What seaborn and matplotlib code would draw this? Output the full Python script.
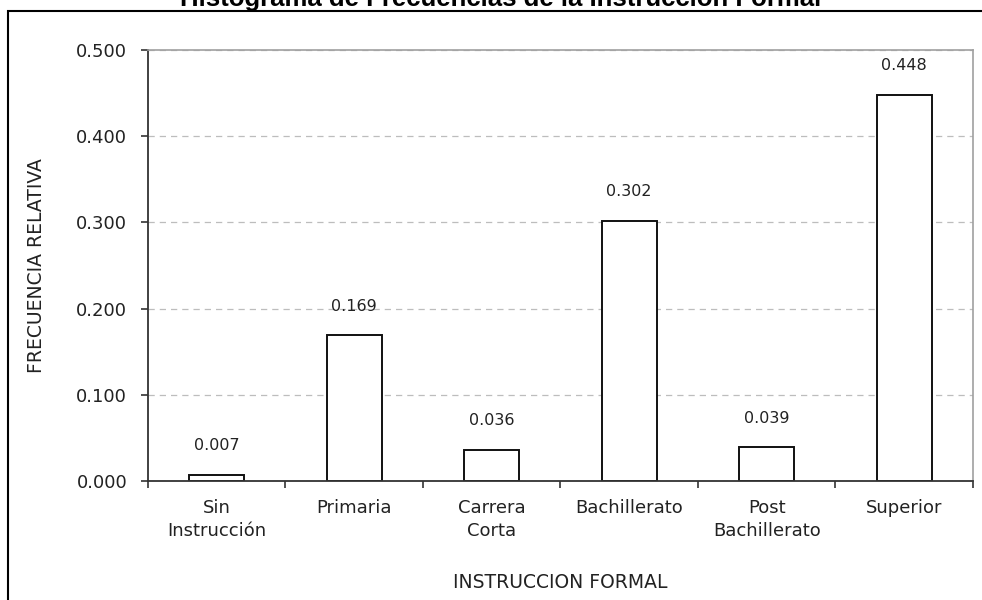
import numpy as np
import pandas as pd
import seaborn as sns
import matplotlib.pyplot as plt
from matplotlib.patches import Rectangle
from matplotlib.ticker import FormatStrFormatter

# ---------- datos ----------
categorias = ['Sin\nInstrucción', 'Primaria', 'Carrera\nCorta', 'Bachillerato',
              'Post\nBachillerato', 'Superior']
frecuencia = [0.007, 0.169, 0.036, 0.302, 0.039, 0.448]
yticks = [0.0, 0.1, 0.2, 0.3, 0.4, 0.5]

df = pd.DataFrame({'cat': categorias, 'frec': frecuencia})

sns.set_theme(style='white')
plt.rcParams['font.family'] = ['DejaVu Sans']

fig = plt.figure(figsize=(9.82, 6.0), dpi=100)
ax = fig.add_axes([0.1507, 0.1983, 0.8401, 0.7184])

sns.barplot(data=df, x='cat', y='frec', color='white', edgecolor='#111111',
            linewidth=1.4, width=0.4, ax=ax)

ax.set_xlim(-0.5, len(categorias) - 0.5)
ax.set_ylim(0, 0.5)
ax.set_yticks(yticks)
ax.yaxis.set_major_formatter(FormatStrFormatter('%.3f'))

# etiquetas de valor
for i, v in enumerate(frecuencia):
    ax.annotate(f'{v:.3f}', (i, v), xytext=(0, 21), textcoords='offset points',
                ha='center', va='center', fontsize=11.5, color='#222222')

# rejilla y bordes
ax.yaxis.grid(True, color='#bdbdbd', linestyle=(0, (5, 4)), linewidth=0.9)
ax.set_axisbelow(True)
for s in ['top', 'right']:
    ax.spines[s].set_color('#a0a0a0')
    ax.spines[s].set_linewidth(1.2)
for s in ['left', 'bottom']:
    ax.spines[s].set_color('#333333')
    ax.spines[s].set_linewidth(1.3)

# ticks: marcas en los limites de categoria, etiquetas centradas
ax.set_xticks(np.arange(len(categorias)))
ax.set_xticklabels(categorias, linespacing=1.35)
ax.set_xticks(np.arange(len(categorias) + 1) - 0.5, minor=True)
ax.tick_params(axis='x', which='major', length=0, pad=13, labelsize=13,
               labelcolor='#222222')
ax.tick_params(axis='x', which='minor', bottom=True, length=5, width=1.2,
               direction='out', color='#333333')
ax.tick_params(axis='y', left=True, length=5, width=1.2, direction='out',
               color='#333333', labelsize=13, labelcolor='#222222', pad=10)

ax.set_xlabel('INSTRUCCION FORMAL', fontsize=13.5, color='#222222', labelpad=24)
ax.set_ylabel('FRECUENCIA RELATIVA', fontsize=13.5, color='#222222', labelpad=22)

# titulo (cortado arriba, como en el original)
fig.text(0.51, 1 - 6 / 600, 'Histograma de Frecuencias de la Instrucción Formal',
         ha='center', va='baseline', fontsize=18.5, fontweight='bold',
         family='Liberation Sans', color='black')

# marco exterior
fig.patches.append(Rectangle((8 / 982, -0.05), 1.1, 1 - 11 / 600 + 0.05,
                             transform=fig.transFigure, fill=False,
                             edgecolor='black', linewidth=1.5, clip_on=False))

fig.savefig('out.png', dpi=100)
